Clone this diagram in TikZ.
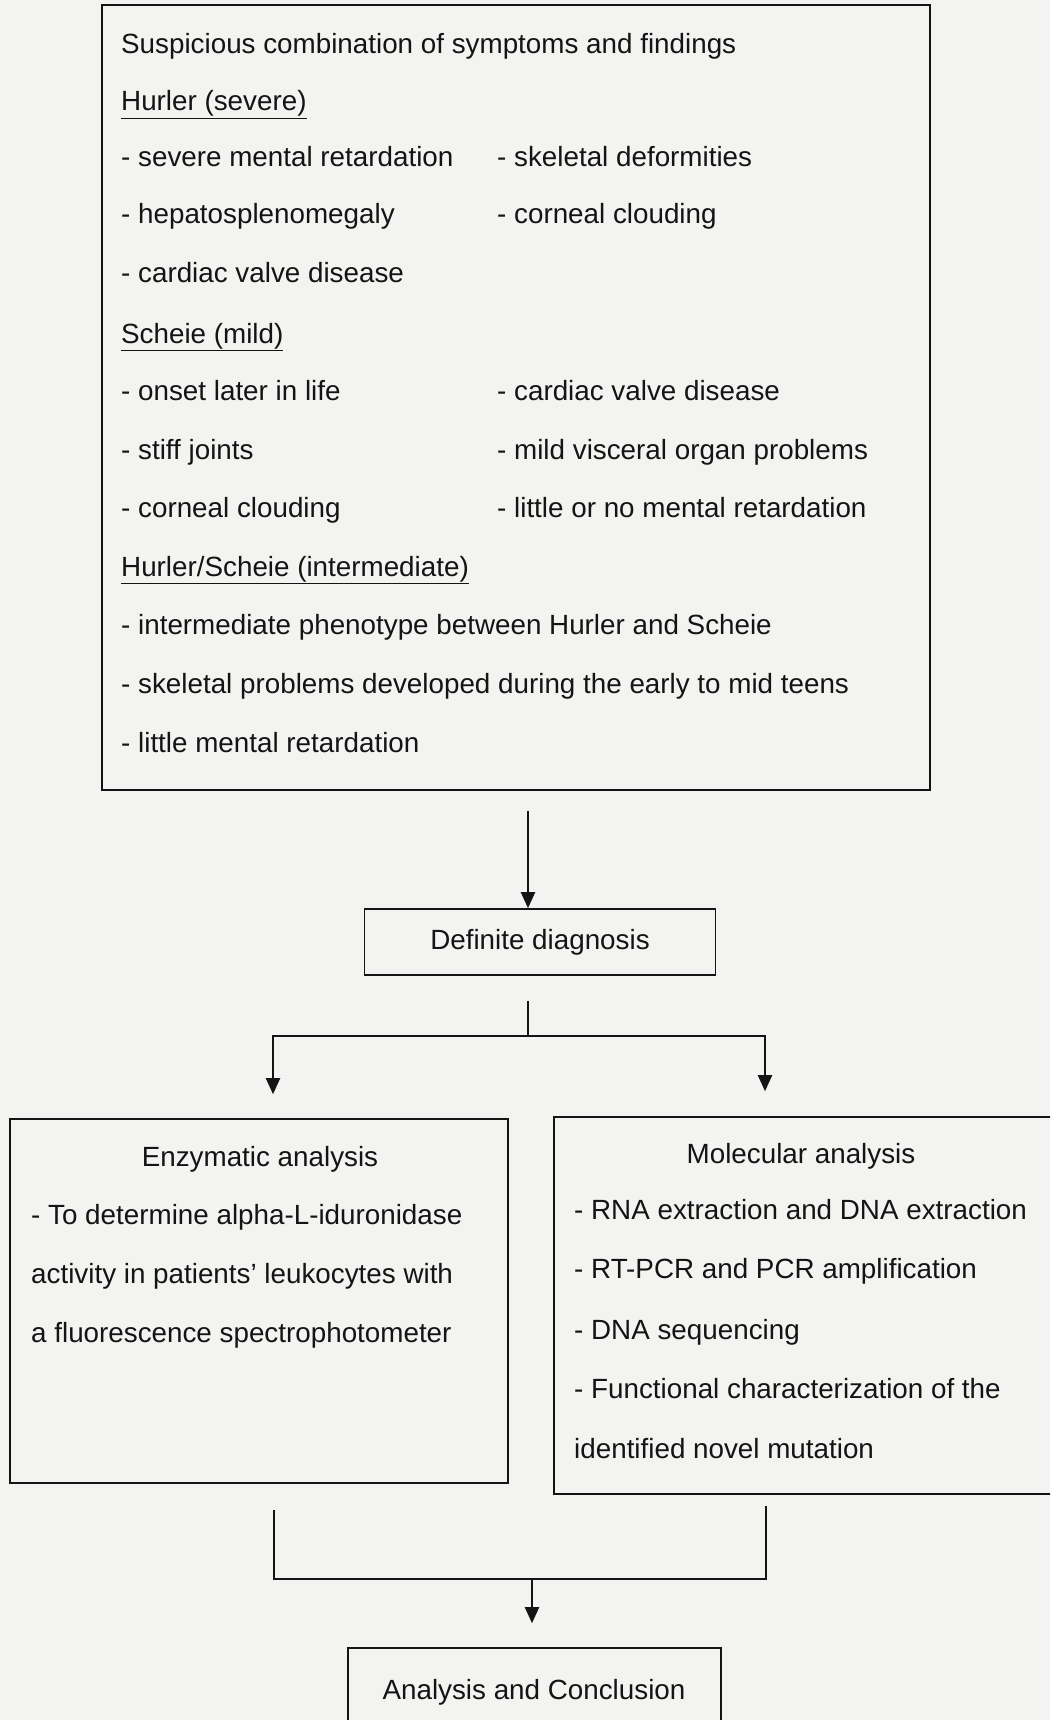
\documentclass[tikz,border=0pt]{standalone}
\usepackage{fontspec}
\setmainfont{Liberation Sans}
\usetikzlibrary{arrows.meta,calc}
\definecolor{paper}{RGB}{243,243,241}
\definecolor{ink}{RGB}{20,20,20}
\newcommand{\fsz}{\fontsize{27.8}{33}\selectfont}
\begin{document}
\begin{tikzpicture}[x=1pt,y=-1pt,
  box/.style={draw=ink, line width=1.6pt, inner sep=0pt},
  txt/.style={anchor=base west, inner sep=0pt, font=\fsz, text=ink},
  ctxt/.style={anchor=base, inner sep=0pt, font=\fsz, text=ink},
  arr/.style={draw=ink, line width=2pt, -{Triangle[length=16pt,width=14pt]}},
  ln/.style={draw=ink, line width=2pt}]
\useasboundingbox (0,0) rectangle (1050,1720);
\fill[paper] (0,0) rectangle (1050,1720);
\clip (0,0) rectangle (1050,1720);

% top box
\node[box, minimum width=828pt, minimum height=785pt] (top) at (516,397.5) {};
\node[txt] (t1) at (121,54) {Suspicious combination of symptoms and findings};
\node[txt] (t2) at (121,111) {\underline{Hurler (severe)}};
\node[txt] (t3) at (121,167) {- severe mental retardation};
\node[txt] (t3b) at (497,167) {- skeletal deformities};
\node[txt] (t4) at (121,224) {- hepatosplenomegaly};
\node[txt] (t4b) at (497,224) {- corneal clouding};
\node[txt] (t5) at (121,283) {- cardiac valve disease};
\node[txt] (t6) at (121,343) {\underline{Scheie (mild)}};
\node[txt] (t7) at (121,400) {- onset later in life};
\node[txt] (t7b) at (497,400) {- cardiac valve disease};
\node[txt] (t8) at (121,459) {- stiff joints};
\node[txt] (t8b) at (497,459) {- mild visceral organ problems};
\node[txt] (t9) at (121,517) {- corneal clouding};
\node[txt] (t9b) at (497,517) {- little or no mental retardation};
\node[txt] (t10) at (121,576) {\underline{Hurler/Scheie (intermediate)}};
\node[txt] (t11) at (121,634) {- intermediate phenotype between Hurler and Scheie};
\node[txt] (t12) at (121,693) {- skeletal problems developed during the early to mid teens};
\node[txt] (t13) at (121,752) {- little mental retardation};

% definite diagnosis
\node[box, minimum width=351pt, minimum height=66pt, font=\fsz, text=ink] (dd) at (540,942) {Definite diagnosis};

% enzymatic
\node[box, minimum width=498pt, minimum height=364pt] (enz) at (259,1301) {};
\node[ctxt] (e0) at (260,1166) {Enzymatic analysis};
\node[txt] (e1) at (31,1224) {- To determine alpha-L-iduronidase};
\node[txt] (e2) at (31,1283) {activity in patients' leukocytes with};
\node[txt] (e3) at (31,1342) {a fluorescence spectrophotometer};

% molecular
\node[box, minimum width=516pt, minimum height=377pt] (mol) at (812,1305.5) {};
\node[ctxt] (m0) at (801,1163) {Molecular analysis};
\node[txt] (m1) at (574,1219) {- RNA extraction and DNA extraction};
\node[txt] (m2) at (574,1278) {- RT-PCR and PCR amplification};
\node[txt] (m3) at (574,1339) {- DNA sequencing};
\node[txt] (m4) at (574,1398) {- Functional characterization of the};
\node[txt] (m5) at (574,1458) {identified novel mutation};

% analysis and conclusion
\node[box, minimum width=373pt, minimum height=104pt] (ac) at (534.5,1700) {};
\node[ctxt] (a0) at (534,1699) {Analysis and Conclusion};

% connectors
\draw[arr] ([xshift=12pt,yshift=-20pt]top.south) -- ([xshift=-12pt]dd.north);
\coordinate (split) at (528,1036);
\draw[ln] ([xshift=-12pt,yshift=-25pt]dd.south) -- (split);
\draw[arr] (split) -| ([xshift=14pt,yshift=24pt]enz.north);
\draw[arr] (split) -| ([xshift=-47pt,yshift=25pt]mol.north);
\coordinate (join) at (532,1579);
\draw[ln] ([xshift=15pt,yshift=-26pt]enz.south) |- (join);
\draw[ln] ([xshift=-46pt,yshift=-11pt]mol.south) |- (join);
\draw[arr] (join) -- ([xshift=-2.5pt,yshift=24pt]ac.north);
\end{tikzpicture}
\end{document}
